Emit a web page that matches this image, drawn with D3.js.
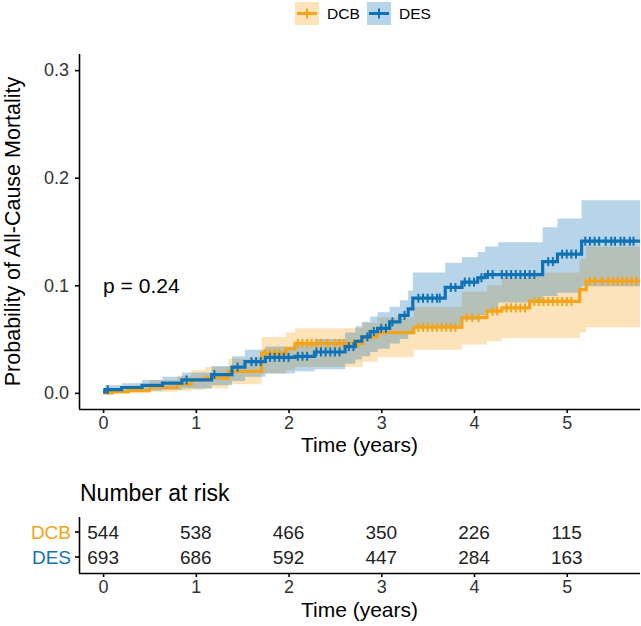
<!DOCTYPE html>
<html><head><meta charset="utf-8">
<script src="https://cdn.jsdelivr.net/npm/d3@7"></script>
<style>body{margin:0;background:#fff}svg{display:block;font-family:"Liberation Sans",Arial,sans-serif}</style>
</head><body><svg id="c" width="641" height="626"></svg>
<script>
const groups = ["DCB", "DES"];
const colors = ["#F5A318", "#0F72B5"];
const xTicks = [0, 1, 2, 3, 4, 5];
const yTicks = [0.0, 0.1, 0.2, 0.3];
const tEnd = 5.79;
// DES step curve (time, cumulative mortality, lower, upper)
const desTime = [0, 0.02, 0.2, 0.42, 0.64, 0.85, 1.17, 1.39, 1.53, 1.75, 2.07, 2.28, 2.61, 2.72, 2.79, 2.88, 2.96, 3.09, 3.20, 3.29, 3.34, 3.69, 3.87, 4.04, 4.12, 4.26, 4.74, 4.90, 5.16];
const desEst  = [0.001, 0.003, 0.005, 0.007, 0.009, 0.012, 0.017, 0.024, 0.029, 0.033, 0.034, 0.038, 0.043, 0.048, 0.052, 0.057, 0.060, 0.066, 0.072, 0.078, 0.088, 0.098, 0.103, 0.107, 0.110, 0.110, 0.122, 0.129, 0.141];
const desLo   = [0.000, 0.000, 0.001, 0.002, 0.003, 0.004, 0.007, 0.011, 0.015, 0.018, 0.020, 0.022, 0.027, 0.031, 0.034, 0.038, 0.041, 0.046, 0.050, 0.055, 0.062, 0.062, 0.068, 0.072, 0.075, 0.084, 0.090, 0.093, 0.099];
const desHi   = [0.004, 0.007, 0.009, 0.012, 0.015, 0.019, 0.025, 0.034, 0.040, 0.043, 0.045, 0.050, 0.056, 0.062, 0.066, 0.071, 0.075, 0.080, 0.086, 0.095, 0.112, 0.121, 0.126, 0.131, 0.136, 0.140, 0.154, 0.162, 0.179];
// DCB step curve
const dcbTime = [0, 0.1, 0.27, 0.5, 0.8, 0.95, 1.1, 1.35, 1.71, 1.97, 2.07, 2.8, 2.96, 3.35, 3.87, 4.14, 4.3, 4.6, 5.14, 5.21];
const dcbEst  = [0.000, 0.001, 0.002, 0.005, 0.008, 0.012, 0.014, 0.020, 0.037, 0.041, 0.046, 0.052, 0.056, 0.061, 0.070, 0.076, 0.079, 0.085, 0.096, 0.104];
const dcbLo   = [0.000, 0.000, 0.000, 0.001, 0.002, 0.003, 0.004, 0.008, 0.018, 0.021, 0.024, 0.029, 0.033, 0.040, 0.045, 0.048, 0.051, 0.051, 0.056, 0.061];
const dcbHi   = [0.002, 0.004, 0.007, 0.012, 0.016, 0.021, 0.024, 0.032, 0.052, 0.056, 0.060, 0.065, 0.070, 0.080, 0.094, 0.100, 0.107, 0.112, 0.125, 0.136];
// censoring marks
const desCens = [0.05, 0.9, 1.2, 1.45, 1.6, 1.65, 1.7, 1.8, 1.85, 1.9, 1.95, 2.0, 2.1, 2.15, 2.2, 2.3, 2.35, 2.4, 2.45, 2.5, 2.55, 2.65, 2.7, 2.85, 2.92, 3.0, 3.05, 3.12, 3.25, 3.4, 3.45, 3.5, 3.55, 3.6, 3.63, 3.75, 3.8, 3.9, 3.95, 4.0, 4.08, 4.15, 4.2, 4.3, 4.35, 4.4, 4.45, 4.5, 4.55, 4.6, 4.65, 4.8, 4.85, 4.95, 5.0, 5.05, 5.1, 5.2, 5.25, 5.3, 5.35, 5.42, 5.48, 5.52, 5.58, 5.62, 5.68, 5.72];
const dcbCens = [1.75, 1.8, 1.85, 1.9, 2.1, 2.15, 2.2, 2.25, 2.3, 2.35, 2.42, 2.5, 2.55, 2.6, 2.7, 2.75, 2.85, 3.4, 3.45, 3.5, 3.55, 3.6, 3.65, 3.7, 3.75, 3.8, 3.92, 3.98, 4.05, 4.2, 4.25, 4.35, 4.4, 4.45, 4.5, 4.55, 4.65, 4.7, 4.75, 4.8, 4.85, 4.9, 4.95, 5.0, 5.05, 5.25, 5.3, 5.38, 5.45, 5.5, 5.55, 5.6, 5.65, 5.7, 5.75];
// number at risk
const riskDCB = [544, 538, 466, 350, 226, 115];
const riskDES = [693, 686, 592, 447, 284, 163];
const pText = "p = 0.24";

const svg = d3.select("#c");
const L = 79, R = 640, T = 54, B = 409;
const x = d3.scaleLinear().domain([-0.26, 5.79]).range([L, R]);
const y = d3.scaleLinear().domain([-0.015, 0.315]).range([B, T]);

function build(time, est, lo, hi) {
  const d = time.map((t, i) => ({t, e: est[i], lo: lo[i], hi: hi[i]}));
  const last = d[d.length - 1];
  d.push({t: tEnd, e: last.e, lo: last.lo, hi: last.hi});
  return d;
}
const series = [build(dcbTime, dcbEst, dcbLo, dcbHi), build(desTime, desEst, desLo, desHi)];
const cens = [dcbCens, desCens];

svg.append("clipPath").attr("id", "clip").append("rect").attr("x", L).attr("y", T).attr("width", R - L).attr("height", B - T);
const g = svg.append("g").attr("clip-path", "url(#clip)");
const area = d3.area().curve(d3.curveStepAfter).x(d => x(d.t)).y0(d => y(d.lo)).y1(d => y(d.hi));
const line = d3.line().curve(d3.curveStepAfter).x(d => x(d.t)).y(d => y(d.e));

series.forEach((s, i) => {
  g.append("path").attr("d", area(s)).attr("fill", colors[i]).attr("fill-opacity", 0.3);
});
series.forEach((s, i) => {
  g.append("path").attr("d", line(s)).attr("fill", "none").attr("stroke", colors[i]).attr("stroke-width", 3.2);
  const valAt = t => { let v = s[0].e; s.forEach(d => { if (d.t <= t) v = d.e; }); return v; };
  g.selectAll(null).data(cens[i]).enter().append("path")
    .attr("d", t => `M${x(t)},${y(valAt(t)) - 4.5}V${y(valAt(t)) + 4.5}`)
    .attr("stroke", colors[i]).attr("stroke-width", 2).attr("fill", "none");
});

// axes
const yAx = svg.append("g").attr("transform", `translate(${L},0)`)
  .call(d3.axisLeft(y).tickValues(yTicks).tickFormat(d3.format(".1f")).tickSize(4).tickPadding(6));
const xAx = svg.append("g").attr("transform", `translate(0,${B})`)
  .call(d3.axisBottom(x).tickValues(xTicks).tickFormat(d3.format("d")).tickSize(4).tickPadding(3));
[yAx, xAx].forEach(a => {
  a.select(".domain").attr("stroke", "#000").attr("stroke-width", 1.6);
  a.selectAll(".tick line").attr("stroke", "#000").attr("stroke-width", 1.6);
  a.selectAll(".tick text").attr("fill", "#333").attr("font-size", 18).attr("font-family", "Liberation Sans, Arial, sans-serif");
});
xAx.select(".domain").attr("d", `M${L},0.5H${R}`);
yAx.select(".domain").attr("d", `M0.5,${T}V${B}`);

svg.append("text").attr("x", (L + R) / 2).attr("y", 452).attr("text-anchor", "middle").attr("font-size", 21).text("Time (years)");
svg.append("text").attr("transform", `translate(20,${(T + B) / 2}) rotate(-90)`).attr("text-anchor", "middle").attr("font-size", 21.5).text("Probability of All-Cause Mortality");
svg.append("text").attr("x", x(0)).attr("y", y(0.1)).attr("dy", "0.35em").attr("font-size", 21).text(pText);

// legend
const leg = svg.append("g");
const legX = [295, 367];
groups.forEach((gname, i) => {
  const lx = legX[i];
  leg.append("rect").attr("x", lx).attr("y", 2).attr("width", 24).attr("height", 23).attr("fill", colors[i]).attr("fill-opacity", 0.3);
  leg.append("line").attr("x1", lx + 2).attr("x2", lx + 22).attr("y1", 13.5).attr("y2", 13.5).attr("stroke", colors[i]).attr("stroke-width", 3);
  leg.append("line").attr("x1", lx + 12).attr("x2", lx + 12).attr("y1", 8.5).attr("y2", 18.5).attr("stroke", colors[i]).attr("stroke-width", 2);
  leg.append("text").attr("x", lx + 32).attr("y", 13.5).attr("dy", "0.35em").attr("font-size", 15.5).attr("fill", "#000").text(gname);
});

// risk table
const TT = 517, TB = 573;
const rowY = [532, 557];
svg.append("text").attr("x", L + 1).attr("y", 501).attr("font-size", 23).text("Number at risk");
const risks = [riskDCB, riskDES];
risks.forEach((r, i) => {
  svg.selectAll(null).data(r).enter().append("text")
    .attr("x", (d, j) => x(xTicks[j])).attr("y", rowY[i]).attr("dy", "0.35em")
    .attr("text-anchor", "middle").attr("font-size", 19).attr("fill", "#222").text(d => d);
  svg.append("text").attr("x", L - 8).attr("y", rowY[i]).attr("dy", "0.35em").attr("text-anchor", "end")
    .attr("font-size", 19).attr("fill", colors[i]).text(groups[i]);
  svg.append("line").attr("x1", L - 4).attr("x2", L).attr("y1", rowY[i]).attr("y2", rowY[i]).attr("stroke", "#000").attr("stroke-width", 1.6);
});
svg.append("line").attr("x1", L + 0.5).attr("x2", L + 0.5).attr("y1", TT).attr("y2", TB).attr("stroke", "#000").attr("stroke-width", 1.6);
const tAx = svg.append("g").attr("transform", `translate(0,${TB})`)
  .call(d3.axisBottom(x).tickValues(xTicks).tickFormat(d3.format("d")).tickSize(4).tickPadding(3));
tAx.select(".domain").attr("d", `M${L},0.5H${R}`).attr("stroke", "#000").attr("stroke-width", 1.6);
tAx.selectAll(".tick line").attr("stroke", "#000").attr("stroke-width", 1.6);
tAx.selectAll(".tick text").attr("fill", "#333").attr("font-size", 18).attr("font-family", "Liberation Sans, Arial, sans-serif");
svg.append("text").attr("x", (L + R) / 2).attr("y", 617).attr("text-anchor", "middle").attr("font-size", 21).text("Time (years)");
</script></body></html>
